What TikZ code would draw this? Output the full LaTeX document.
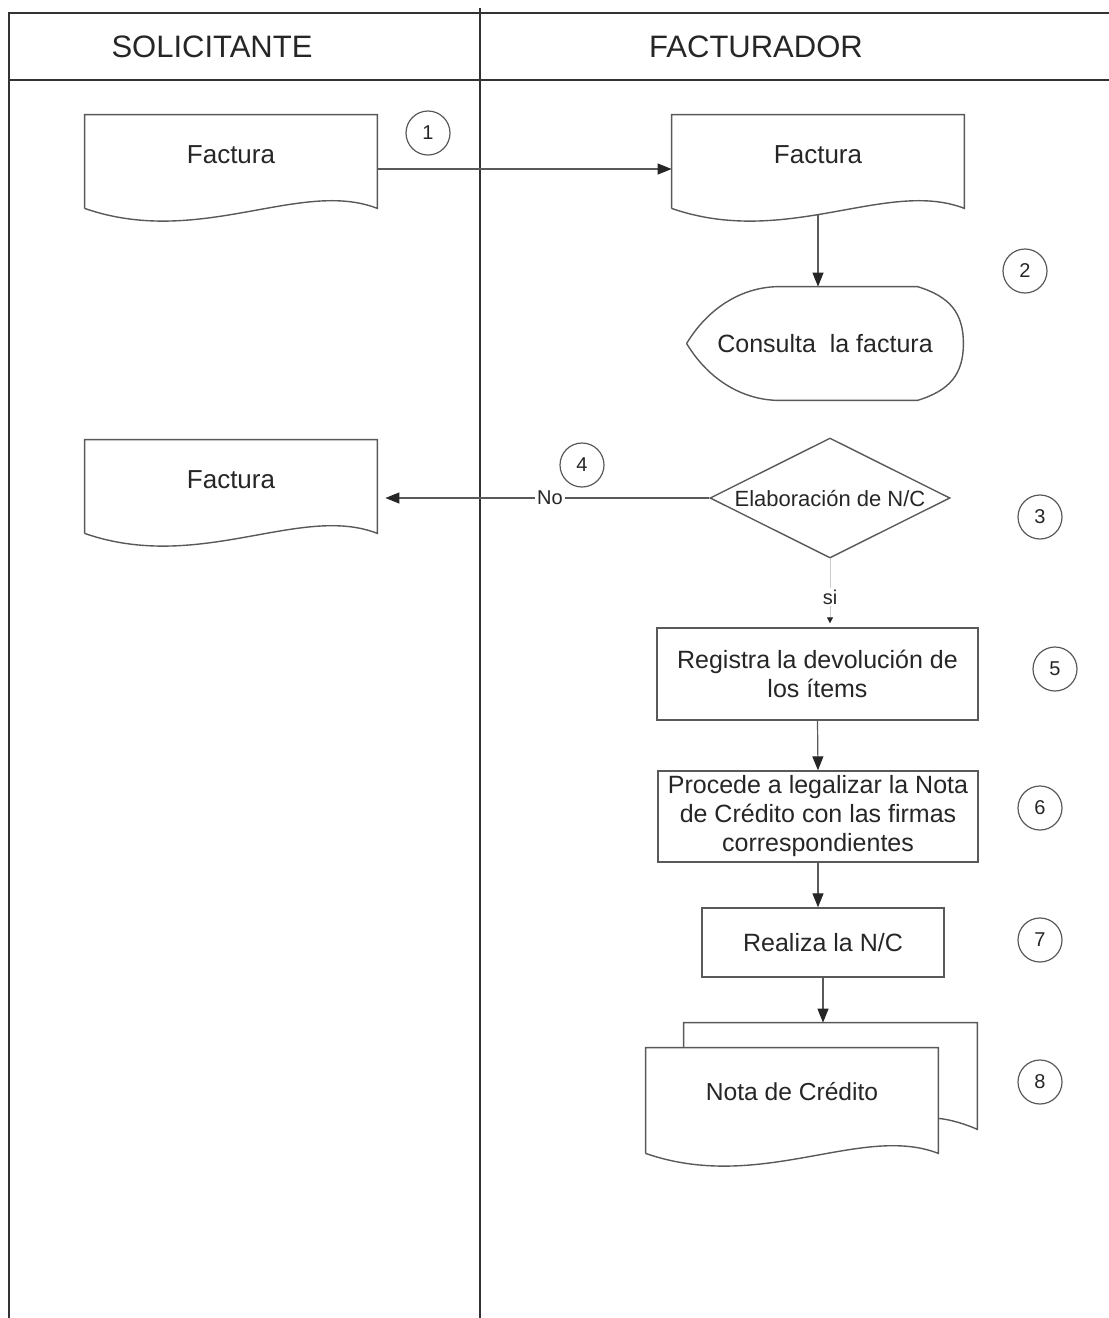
\documentclass[tikz,border=0pt]{standalone}
\usepackage{fontspec}
\setmainfont{Liberation Sans}
\usetikzlibrary{arrows.meta,calc,shapes.geometric}

\newcommand{\hoja}[1]{%
    \draw[borde] (#1.south west) -- (#1.north west) -- (#1.north east) -- (#1.south east)
        .. controls ($(#1.south east)+(-77,-30)$) and ($(#1.south west)+(115,40)$) .. (#1.south west);}

\begin{document}
\begin{tikzpicture}[x=0.5pt,y=-0.5pt,
    every node/.style={font=\fontsize{12.5}{14.5}\selectfont, text=black!85},
    titulo/.style={font=\fontsize{15.5}{18}\selectfont},
    marco/.style={line width=1pt, black!80},
    borde/.style={line width=0.7pt, black!65},
    doc/.style={minimum width=146pt, minimum height=46.5pt, text depth=7pt,
        inner sep=0pt, font=\fontsize{13}{15}\selectfont},
    caja/.style={draw=black!65, line width=0.7pt, align=center, inner sep=0pt},
    decision/.style={diamond, draw=black!65, line width=0.7pt, aspect=2, inner sep=0pt,
        minimum width=120pt, minimum height=60pt, font=\fontsize{11}{13}\selectfont},
    paso/.style={circle, draw=black!65, line width=0.6pt, minimum size=22pt,
        inner sep=0pt, font=\fontsize{10}{10}\selectfont},
    flecha/.style={black!65, line width=0.6pt,
        -{Triangle[length=7pt,width=5.5pt,color=black!85]}}]

    \useasboundingbox (0,0) rectangle (1109,1318);

    % carriles
    \draw[marco] (9,1318) -- (9,13) -- (1109,13);
    \draw[marco] (9,80) -- (1109,80);
    \draw[marco] (480,8) -- (480,1318);
    \node[titulo] (sol) at (212,47) {SOLICITANTE};
    \node[titulo] (fact) at (756,47) {FACTURADOR};

    \node[doc] (fac1) at (231,161.5) {Factura};
    \node[doc] (fac2) at (818,161.5) {Factura};
    \node[minimum width=138pt, minimum height=56.5pt, inner sep=0pt] (cons) at (825,343.5)
        {Consulta~~la factura};
    \node[decision] (elab) at (830,498) {Elaboración de N/C};
    \node[doc] (fac3) at (231,486.5) {Factura};
    \node[caja, minimum width=160.5pt, minimum height=46pt] (reg) at (817.5,674)
        {Registra la devolución de\\los ítems};
    \node[caja, minimum width=160pt, minimum height=45.5pt] (leg) at (818,816.5)
        {Procede a legalizar la Nota\\de Crédito con las firmas\\correspondientes};
    \node[caja, minimum width=121pt, minimum height=34.5pt] (rea) at (823,942.5)
        {Realiza la N/C};
    \node[doc, minimum height=52.5pt, text depth=9pt, font=\fontsize{12.3}{14}\selectfont] (nota)
        at (792,1100.5) {Nota de Crédito};
    \coordinate (atras) at ($(nota.north west)+(38,-25)$);

    \hoja{fac1}
    \hoja{fac2}
    \hoja{fac3}
    \draw[borde] ($(nota.north west)+(38,0)$) -- (atras) -- ($(nota.north east)+(39,-25)$)
        -- ($(nota.south east)+(39,-24)$)
        .. controls ($(nota.south east)+(28,-29)$) and ($(nota.south east)+(12,-34)$)
        .. ($(nota.south east)+(0,-35)$);
    \hoja{nota}
    \draw[borde] (cons.west)
        .. controls ($(cons.west)+(23,-38)$) and ($(cons.north west)+(58,0)$) .. ($(cons.north west)+(93,0)$)
        -- ($(cons.north east)+(-46,0)$)
        .. controls ($(cons.north east)+(-13,10)$) and ($(cons.east)+(0,-30)$) .. (cons.east)
        .. controls ($(cons.east)+(0,30)$) and ($(cons.south east)+(-13,-10)$) .. ($(cons.south east)+(-46,0)$)
        -- ($(cons.south west)+(93,0)$)
        .. controls ($(cons.south west)+(58,0)$) and ($(cons.west)+(23,38)$) .. (cons.west);

    \node[paso] (p1) at (428,133) {1};
    \node[paso] (p2) at (1025,271) {2};
    \node[paso] (p3) at (1040,517) {3};
    \node[paso] (p4) at (582,465) {4};
    \node[paso] (p5) at (1055,669) {5};
    \node[paso] (p6) at (1040,808) {6};
    \node[paso] (p7) at (1040,940) {7};
    \node[paso] (p8) at (1040,1082) {8};

    \draw[flecha] ([yshift=-3.75pt]fac1.east) -- ([yshift=-3.75pt]fac2.west);
    \draw[flecha] ([yshift=-3pt]fac2.south) -- (fac2.south |- cons.north);
    \draw[flecha, shorten >=4pt] (elab.west) -- (fac3.east |- elab.west)
        node[pos=0.48, fill=white, inner sep=1pt, font=\fontsize{10}{12}\selectfont] {No};
    \draw[black!20, line width=0.5pt, shorten >=2pt,
        -{Triangle[length=3pt,width=3pt,color=black!85]}] (elab.south) -- (elab.south |- reg.north)
        node[pos=0.56, fill=white, inner sep=1pt, font=\fontsize{10}{12}\selectfont] {si};
    \draw[flecha] (reg.south) -- (leg.north);
    \draw[flecha] (leg.south) -- (leg.south |- rea.north);
    \draw[flecha] (rea.south) -- (rea.south |- atras);

\end{tikzpicture}
\end{document}
